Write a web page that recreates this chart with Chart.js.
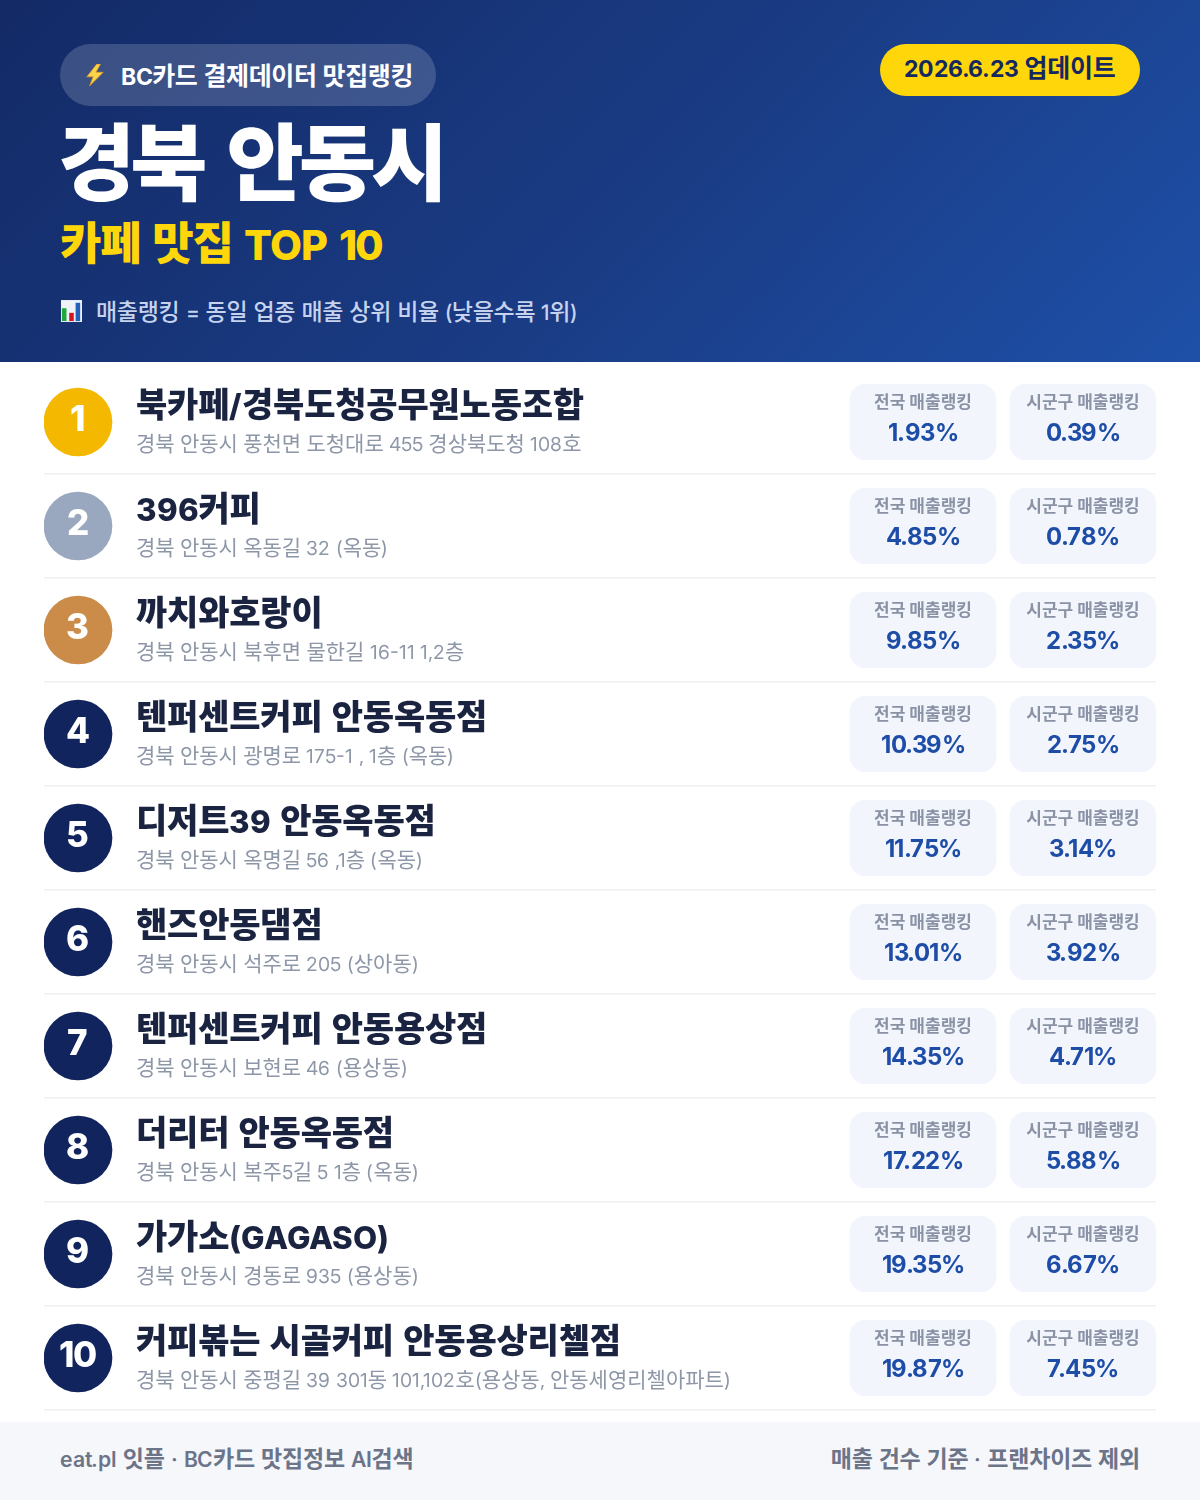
<!DOCTYPE html>
<html lang="ko">
<head>
<meta charset="utf-8">
<title>경북 안동시 카페 맛집 TOP 10</title>
<script src="https://cdn.jsdelivr.net/npm/chart.js@4"></script>
<style>
  @font-face { font-family: "LatinFace"; src: local("Inter Regular"), local("Inter"); font-weight: 400; size-adjust: 92%; unicode-range: U+0020-007E, U+00B7; }
  @font-face { font-family: "LatinFace"; src: local("Inter Medium"); font-weight: 500; size-adjust: 92%; unicode-range: U+0020-007E, U+00B7; }
  @font-face { font-family: "LatinFace"; src: local("Inter SemiBold"), local("Inter Semi Bold"); font-weight: 600; size-adjust: 92%; unicode-range: U+0020-007E, U+00B7; }
  @font-face { font-family: "LatinFace"; src: local("Inter Bold"); font-weight: 700; size-adjust: 92%; unicode-range: U+0020-007E, U+00B7; }
  @font-face { font-family: "LatinFace"; src: local("Inter ExtraBold"), local("Inter Extra Bold"); font-weight: 800; size-adjust: 92%; unicode-range: U+0020-007E, U+00B7; }
  * { box-sizing: border-box; }
  html, body { margin: 0; padding: 0; background: #fff; }
  body { width: 1200px; height: 1500px; overflow: hidden; font-family: LatinFace, Inter, "Noto Sans CJK KR", sans-serif; }
  .header { position: relative; height: 362px; background: linear-gradient(135deg, #132a66 0%, #1a3c85 55%, #1e50a8 100%); color: #fff; }
  .badge { position: absolute; left: 60px; top: 44px; width: 376px; height: 62px; border-radius: 31px; background: rgba(255,255,255,.17); font-size: 25px; font-weight: 700; line-height: 67px; padding-left: 61px; letter-spacing: -.4px; word-spacing: 1.5px; white-space: nowrap; }
  .badge svg { position: absolute; left: 25px; top: 20px; }
  .date { position: absolute; left: 880px; top: 44px; width: 260px; height: 52px; border-radius: 26px; background: #ffd60a; color: #14285f; font-size: 25px; font-weight: 700; line-height: 50px; text-align: center; letter-spacing: -.2px; word-spacing: 1px; white-space: nowrap; }
  h1 { position: absolute; left: 58px; top: 105px; margin: 0; font-size: 84px; font-weight: 800; line-height: 122px; letter-spacing: -5px; word-spacing: 12px; white-space: nowrap; }
  h2 { position: absolute; left: 60px; top: 211px; margin: 0; color: #ffd60a; font-size: 45px; font-weight: 800; line-height: 68px; letter-spacing: -1.2px; word-spacing: 4px; white-space: nowrap; }
  .note { position: absolute; left: 96px; top: 295px; color: #c5d3ee; font-size: 23px; font-weight: 500; line-height: 36px; letter-spacing: -.3px; word-spacing: 1.5px; white-space: nowrap; }
  .note-icon { position: absolute; left: 61px; top: 299px; }
  .list { position: relative; width: 1200px; height: 1060px; }
  .footer { display: flex; justify-content: space-between; align-items: center; height: 78px; padding: 0 60px 8px; background: #f5f7fb; color: #6b7488; font-size: 23px; font-weight: 600; letter-spacing: -.2px; word-spacing: 1.2px; white-space: nowrap; }
</style>
</head>
<body>
<div class="header">
  <div class="badge">
    <svg width="20" height="22" viewBox="0 0 22 24" role="img" aria-label="⚡"><path d="M13 0 2 14h7l-4 10L20 9h-8l5-9z" fill="#fbd34d" stroke="#e59a1a" stroke-width=".8"/></svg>
    BC카드 결제데이터 맛집랭킹
  </div>
  <div class="date">2026.6.23 업데이트</div>
  <h1>경북 안동시</h1>
  <h2>카페 맛집 TOP 10</h2>
  <svg class="note-icon" width="21" height="24" viewBox="0 0 23 24" role="img" aria-label="📊">
    <rect width="23" height="24" fill="#eef3fa"/><rect x="1" y="9" width="5" height="14" fill="#1fa83c"/><rect x="9" y="14" width="5" height="9" fill="#d3161d"/><rect x="16" y="3" width="5" height="20" fill="#2460b8"/>
  </svg>
  <div class="note">매출랭킹 = 동일 업종 매출 상위 비율 (낮을수록 1위)</div>
</div>
<div class="list"><canvas id="rankChart" width="1200" height="1060"></canvas></div>
<div class="footer"><span>eat.pl 잇플 · BC카드 맛집정보 AI검색</span><span>매출 건수 기준 · 프랜차이즈 제외</span></div>

<script>
const ranks = ["1", "2", "3", "4", "5", "6", "7", "8", "9", "10"];
const shopNames = [
  "북카페/경북도청공무원노동조합", "396커피", "까치와호랑이", "텐퍼센트커피 안동옥동점", "디저트39 안동옥동점",
  "핸즈안동댐점", "텐퍼센트커피 안동용상점", "더리터 안동옥동점", "가가소(GAGASO)", "커피볶는 시골커피 안동용상리첼점",
];
const addresses = [
  "경북 안동시 풍천면 도청대로 455 경상북도청 108호",
  "경북 안동시 옥동길 32 (옥동)",
  "경북 안동시 북후면 물한길 16-11 1,2층",
  "경북 안동시 광명로 175-1 , 1층 (옥동)",
  "경북 안동시 옥명길 56 ,1층 (옥동)",
  "경북 안동시 석주로 205 (상아동)",
  "경북 안동시 보현로 46 (용상동)",
  "경북 안동시 복주5길 5 1층 (옥동)",
  "경북 안동시 경동로 935 (용상동)",
  "경북 안동시 중평길 39 301동 101,102호(용상동, 안동세영리첼아파트)",
];
const nationalPct = [1.93, 4.85, 9.85, 10.39, 11.75, 13.01, 14.35, 17.22, 19.35, 19.87];
const districtPct = [0.39, 0.78, 2.35, 2.75, 3.14, 3.92, 4.71, 5.88, 6.67, 7.45];
const nationalLabel = "전국 매출랭킹";
const districtLabel = "시군구 매출랭킹";

// x scale is just the width of the list, in px from its left edge
const LIST_W = 1112;
const CIRCLE_CELL = [0, 68];
const TEXT_X = 92;
const NATIONAL_CELL = [806, 952];
const DISTRICT_CELL = [966, 1112];

const FONT = 'LatinFace, Inter, "Noto Sans CJK KR", sans-serif';
const rankColor = (i) => ["#f4b800", "#9aa8bf", "#cb8c4a"][i] || "#12245e";
const mid = (cell) => (cell[0] + cell[1]) / 2;

function text(ctx, str, x, y, font, color, align, spacing, wordSpacing) {
  ctx.font = font + " " + FONT;
  ctx.fillStyle = color;
  ctx.textAlign = align || "left";
  ctx.textBaseline = "middle";
  ctx.letterSpacing = spacing || "0px";
  ctx.wordSpacing = wordSpacing || "0px";
  ctx.fillText(str, x, y);
}

const rowText = {
  id: "rowText",
  afterDatasetsDraw(chart) {
    const { ctx, scales: { x, y } } = chart;
    const natX = x.getPixelForValue(mid(NATIONAL_CELL));
    const disX = x.getPixelForValue(mid(DISTRICT_CELL));
    ctx.save();
    ranks.forEach((r, i) => {
      const cy = y.getPixelForValue(i);
      text(ctx, r, x.getPixelForValue(mid(CIRCLE_CELL)) - 1, cy - 2, "800 38px", "#fff", "center", "-1px");
      text(ctx, shopNames[i], x.getPixelForValue(TEXT_X), cy - 14, "800 34px", "#1a2340", "left", "-0.2px", "2.5px");
      text(ctx, addresses[i], x.getPixelForValue(TEXT_X), cy + 23, "400 21px", "#8e97a8", "left", "0px", "0.3px");
      text(ctx, nationalLabel, natX, cy - 19, "600 17px", "#8a93a5", "center");
      text(ctx, nationalPct[i].toFixed(2) + "%", natX, cy + 12, "700 26px", "#1e4da8", "center", "-0.5px");
      text(ctx, districtLabel, disX, cy - 19, "600 17px", "#8a93a5", "center");
      text(ctx, districtPct[i].toFixed(2) + "%", disX, cy + 12, "700 26px", "#1e4da8", "center", "-0.5px");
    });
    ctx.restore();
  },
};

const cellDataset = (cell, opts) => ({
  data: ranks.map((r) => ({ x: cell, y: r })),
  borderSkipped: false,
  grouped: false,
  ...opts,
});

const chart = new Chart(document.getElementById("rankChart"), {
  type: "bar",
  data: {
    labels: ranks,
    datasets: [
      cellDataset(NATIONAL_CELL, { backgroundColor: "#f2f5fc", borderRadius: 16, barThickness: 76 }),
      cellDataset(DISTRICT_CELL, { backgroundColor: "#f2f5fc", borderRadius: 16, barThickness: 76 }),
      cellDataset(CIRCLE_CELL, { backgroundColor: ranks.map((r, i) => rankColor(i)), borderRadius: 34, barThickness: 68 }),
    ],
  },
  options: {
    indexAxis: "y",
    responsive: false,
    animation: false,
    events: [],
    layout: { padding: { left: 44, right: 44, top: 8, bottom: 12 } },
    plugins: { legend: { display: false }, tooltip: { enabled: false } },
    scales: {
      x: { type: "linear", min: 0, max: LIST_W, display: false },
      y: {
        type: "category",
        labels: ranks,
        offset: true,
        ticks: { display: false },
        border: { display: false },
        grid: {
          offset: true,
          drawTicks: false,
          lineWidth: 1.5,
          color: (c) => (c.index === 0 ? "transparent" : "#eef0f4"),
        },
      },
    },
  },
  plugins: [rowText],
});

// the local faces load async, canvas text has to be redrawn once they are in
Promise.all([400, 600, 700, 800].map((w) => document.fonts.load(w + " 20px LatinFace", "123"))).then(() => chart.draw());
</script>
</body>
</html>
